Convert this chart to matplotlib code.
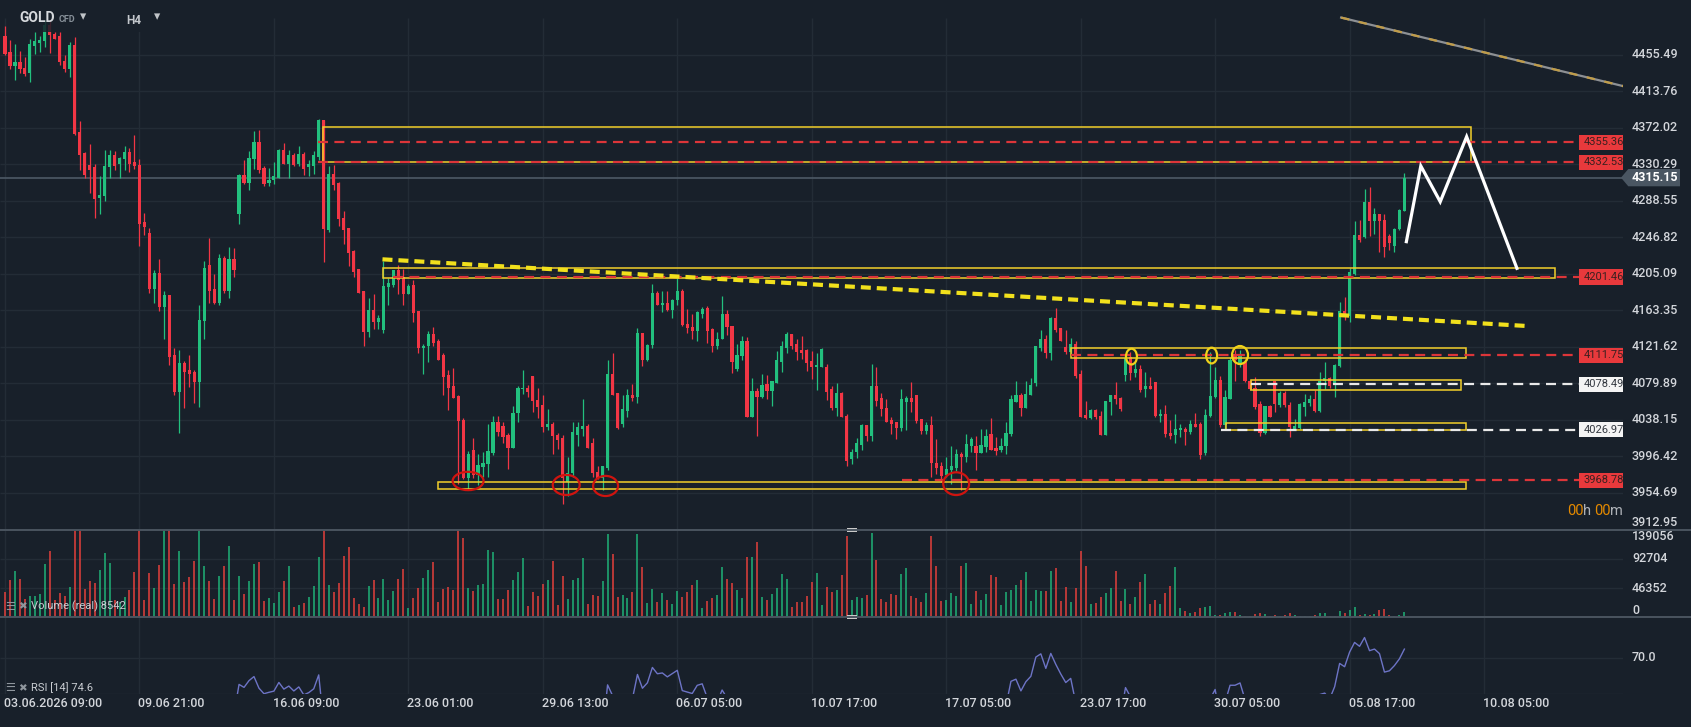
import numpy as np
import pandas as pd
import matplotlib
matplotlib.use("Agg")
import matplotlib.pyplot as plt
import matplotlib.transforms as mtransforms
from matplotlib.patches import Rectangle, Ellipse, Polygon
from matplotlib.lines import Line2D

plt.rcParams['font.family'] = ['Roboto', 'DejaVu Sans']
plt.rcParams['lines.scale_dashes'] = False

# GOLD CFD, H4 candles
opens = [
    4477, 4459, 4443, 4448, 4441, 4435, 4466, 4469, 4471, 4490,
    4479, 4477, 4449, 4440, 4467, 4367, 4343, 4330, 4327, 4292,
    4294, 4327, 4341, 4331, 4336, 4344, 4333, 4330, 4264, 4252,
    4188, 4206, 4167, 4181, 4112, 4070, 4103, 4095, 4093, 4081,
    4151, 4215, 4188, 4172, 4223, 4186, 4222, 4273, 4318, 4309,
    4336, 4356, 4326, 4309, 4313, 4315, 4347, 4331, 4341, 4331,
    4342, 4327, 4329, 4339, 4381, 4255, 4319, 4309, 4269, 4257,
    4231, 4211, 4185, 4139, 4164, 4150, 4141, 4190, 4192, 4209,
    4202, 4182, 4192, 4162, 4120, 4122, 4136, 4128, 4112, 4089,
    4077, 4065, 4038, 3971, 4003, 3975, 3984, 3987, 4000, 4035,
    4031, 4021, 4006, 4046, 4073, 4075, 4088, 4061, 4055, 4030,
    4033, 4021, 4017, 3967, 3977, 4021, 4027, 4031, 4011, 3978,
    3972, 3983, 4090, 4069, 4033, 4048, 4066, 4064, 4137, 4106,
    4124, 4183, 4170, 4172, 4164, 4175, 4186, 4148, 4144, 4140,
    4159, 4166, 4142, 4122, 4130, 4159, 4145, 4096, 4111, 4128,
    4041, 4071, 4064, 4079, 4071, 4080, 4104, 4120, 4136, 4125,
    4118, 4118, 4105, 4098, 4099, 4099, 4073, 4052, 4069, 4043,
    3993, 4001, 4009, 4032, 4020, 4077, 4063, 4052, 4038, 4035,
    4029, 4059, 4063, 4066, 4039, 4025, 4032, 3989, 3985, 3975,
    3981, 3983, 3999, 3996, 4008, 4008, 4000, 4007, 4022, 4006,
    4003, 4008, 4022, 4059, 4066, 4052, 4067, 4080, 4120, 4131,
    4114, 4155, 4143, 4121, 4116, 4125, 4090, 4044, 4040, 4049,
    4043, 4021, 4059, 4067, 4063, 4089, 4110, 4092, 4096, 4073,
    4077, 4081, 4042, 4045, 4023, 4021, 4026, 4027, 4024, 4033,
    4033, 4000, 4043, 4064, 4084, 4032, 4062, 4113, 4102, 4104,
    4083, 4075, 4056, 4023, 4054, 4083, 4055, 4069, 4055, 4028,
    4029, 4053, 4057, 4062, 4048, 4083, 4086, 4078, 4100, 4162,
    4157, 4205, 4250, 4247, 4287, 4266, 4273, 4267, 4248, 4237,
    4256, 4277,
]
highs = [
    4489, 4473, 4468, 4460, 4453, 4474, 4482, 4477, 4495, 4496,
    4482, 4482, 4456, 4470, 4476, 4380, 4344, 4354, 4331, 4317,
    4347, 4347, 4346, 4339, 4351, 4349, 4364, 4336, 4275, 4257,
    4209, 4222, 4185, 4181, 4120, 4118, 4105, 4112, 4095, 4169,
    4220, 4246, 4205, 4228, 4225, 4236, 4235, 4319, 4335, 4346,
    4369, 4370, 4328, 4326, 4333, 4348, 4355, 4347, 4343, 4351,
    4344, 4335, 4346, 4382, 4381, 4329, 4330, 4310, 4277, 4257,
    4232, 4211, 4185, 4178, 4182, 4158, 4220, 4200, 4209, 4215,
    4211, 4193, 4198, 4162, 4125, 4140, 4144, 4130, 4114, 4095,
    4097, 4066, 4040, 4002, 4017, 3999, 4001, 4033, 4043, 4043,
    4035, 4023, 4054, 4077, 4095, 4078, 4088, 4074, 4067, 4051,
    4035, 4023, 4021, 3996, 4036, 4036, 4062, 4033, 4017, 3985,
    3985, 4107, 4115, 4069, 4067, 4073, 4079, 4143, 4137, 4125,
    4194, 4186, 4186, 4185, 4176, 4201, 4188, 4165, 4159, 4162,
    4167, 4168, 4143, 4138, 4180, 4164, 4145, 4125, 4134, 4133,
    4086, 4075, 4090, 4089, 4083, 4117, 4128, 4138, 4136, 4130,
    4134, 4119, 4117, 4114, 4120, 4102, 4077, 4080, 4070, 4045,
    4005, 4017, 4033, 4032, 4102, 4099, 4069, 4062, 4041, 4036,
    4073, 4065, 4081, 4066, 4039, 4036, 4042, 4016, 3990, 3995,
    4008, 4005, 4001, 4022, 4018, 4020, 4027, 4028, 4040, 4018,
    4017, 4035, 4067, 4083, 4069, 4083, 4086, 4122, 4141, 4135,
    4156, 4166, 4143, 4141, 4132, 4128, 4095, 4060, 4050, 4050,
    4048, 4060, 4067, 4081, 4064, 4112, 4116, 4104, 4101, 4093,
    4087, 4081, 4050, 4055, 4038, 4045, 4033, 4030, 4038, 4046,
    4036, 4050, 4116, 4099, 4088, 4072, 4110, 4118, 4118, 4108,
    4084, 4087, 4060, 4054, 4055, 4083, 4071, 4071, 4059, 4039,
    4057, 4068, 4067, 4072, 4093, 4104, 4087, 4102, 4173, 4179,
    4212, 4265, 4267, 4302, 4304, 4280, 4274, 4274, 4251, 4258,
    4279, 4320,
]
lows = [
    4456, 4440, 4427, 4435, 4431, 4425, 4457, 4459, 4465, 4458,
    4474, 4444, 4436, 4430, 4364, 4324, 4315, 4298, 4269, 4274,
    4288, 4315, 4324, 4315, 4324, 4322, 4325, 4237, 4250, 4183,
    4172, 4162, 4131, 4101, 4067, 4023, 4052, 4076, 4057, 4053,
    4131, 4172, 4171, 4170, 4183, 4177, 4202, 4262, 4308, 4301,
    4325, 4321, 4306, 4306, 4308, 4315, 4331, 4315, 4329, 4329,
    4318, 4317, 4319, 4335, 4219, 4253, 4301, 4260, 4239, 4214,
    4202, 4183, 4122, 4133, 4142, 4142, 4137, 4170, 4190, 4182,
    4169, 4182, 4150, 4115, 4090, 4104, 4122, 4107, 4067, 4049,
    4063, 3965, 3970, 3958, 3971, 3963, 3973, 3973, 3998, 4020,
    4011, 3982, 4006, 4036, 4068, 4064, 4047, 4040, 4024, 4026,
    3999, 4005, 3942, 3951, 3973, 4008, 4019, 4006, 3973, 3970,
    3958, 3981, 4067, 4028, 4030, 4041, 4060, 4057, 4100, 4105,
    4120, 4169, 4161, 4162, 4155, 4170, 4145, 4137, 4130, 4128,
    4155, 4126, 4116, 4119, 4130, 4135, 4092, 4094, 4106, 4041,
    4041, 4020, 4063, 4062, 4054, 4080, 4093, 4114, 4119, 4107,
    4108, 4094, 4085, 4072, 4099, 4061, 4049, 4043, 4041, 3985,
    3987, 3994, 4004, 4014, 4014, 4054, 4043, 4035, 4022, 4016,
    4025, 4026, 4047, 4034, 4022, 4022, 3973, 3976, 3967, 3973,
    3965, 3980, 3958, 3990, 4001, 3981, 4000, 4001, 4003, 3998,
    4001, 3999, 4020, 4058, 4043, 4052, 4067, 4077, 4117, 4109,
    4106, 4138, 4128, 4113, 4112, 4086, 4041, 4039, 4039, 4039,
    4021, 4021, 4044, 4056, 4048, 4083, 4084, 4087, 4070, 4064,
    4073, 4041, 4036, 4018, 4016, 4011, 4018, 4009, 4022, 4030,
    3993, 3998, 4041, 4063, 4030, 4028, 4062, 4083, 4099, 4081,
    4072, 4050, 4020, 4022, 4041, 4047, 4053, 4053, 4018, 4027,
    4028, 4043, 4054, 4047, 4047, 4073, 4075, 4064, 4099, 4152,
    4150, 4204, 4242, 4246, 4248, 4251, 4230, 4224, 4232, 4230,
    4255, 4277,
]
closes = [
    4457, 4443, 4448, 4439, 4434, 4468, 4472, 4473, 4490, 4478,
    4474, 4447, 4440, 4467, 4365, 4341, 4318, 4324, 4291, 4295,
    4328, 4341, 4329, 4338, 4344, 4331, 4329, 4262, 4259, 4188,
    4206, 4167, 4181, 4110, 4070, 4103, 4093, 4091, 4081, 4152,
    4212, 4186, 4172, 4223, 4186, 4222, 4210, 4318, 4309, 4338,
    4356, 4324, 4308, 4313, 4317, 4347, 4331, 4341, 4330, 4342,
    4325, 4331, 4341, 4381, 4256, 4319, 4307, 4268, 4255, 4229,
    4207, 4183, 4139, 4164, 4150, 4155, 4191, 4195, 4209, 4198,
    4182, 4191, 4160, 4120, 4122, 4136, 4126, 4107, 4087, 4075,
    4063, 4037, 3971, 3999, 3975, 3986, 3989, 4002, 4035, 4024,
    4018, 4006, 4046, 4074, 4075, 4070, 4060, 4053, 4030, 4033,
    4020, 4015, 3971, 3977, 4024, 4030, 4031, 4006, 3977, 3972,
    3985, 4090, 4067, 4029, 4050, 4066, 4063, 4137, 4106, 4124,
    4183, 4169, 4172, 4164, 4175, 4186, 4146, 4143, 4140, 4161,
    4165, 4140, 4122, 4131, 4159, 4144, 4104, 4112, 4128, 4041,
    4071, 4064, 4078, 4071, 4082, 4106, 4122, 4136, 4122, 4116,
    4115, 4103, 4099, 4101, 4119, 4070, 4052, 4069, 4041, 3991,
    4001, 4011, 4032, 4020, 4077, 4060, 4050, 4036, 4033, 4029,
    4062, 4063, 4059, 4037, 4025, 4032, 3989, 3983, 3974, 3982,
    3985, 3999, 3996, 4010, 4016, 4000, 4009, 4020, 4003, 4002,
    4008, 4023, 4062, 4066, 4052, 4068, 4078, 4122, 4131, 4114,
    4155, 4141, 4128, 4116, 4125, 4088, 4041, 4040, 4049, 4041,
    4021, 4060, 4067, 4062, 4050, 4109, 4092, 4096, 4072, 4077,
    4073, 4043, 4045, 4022, 4020, 4028, 4029, 4024, 4033, 4030,
    3998, 4044, 4065, 4084, 4032, 4064, 4107, 4107, 4113, 4083,
    4073, 4053, 4023, 4054, 4041, 4056, 4069, 4055, 4030, 4031,
    4056, 4059, 4062, 4048, 4083, 4086, 4077, 4101, 4162, 4157,
    4207, 4250, 4244, 4287, 4266, 4273, 4266, 4236, 4240, 4256,
    4278, 4315.15,
]
volumes = [
    40000, 59700, 74100, 61300, 29300, 34100, 34100, 36800, 85200, 106000,
    27700, 38400, 34100, 48500, 160000, 150000, 45300, 58100, 54900, 75700,
    102800, 86800, 27700, 24000, 32500, 43700, 72500, 155000, 27700, 70900,
    46900, 83600, 145000, 150000, 53300, 106000, 56500, 64500, 90000, 142000,
    82000, 58100, 29300, 66100, 82000, 114000, 27700, 66100, 37300, 58100,
    85200, 88400, 26100, 30900, 22900, 40500, 58100, 82000, 16500, 19700,
    22900, 32500, 50100, 96400, 150000, 51700, 40500, 54900, 98000, 112400,
    30900, 21300, 16500, 50100, 59700, 30900, 61300, 27700, 42100, 61300,
    77300, 14900, 30900, 46900, 62900, 75700, 88400, 24500, 45300, 48500,
    43700, 145000, 126800, 46900, 42100, 51700, 53300, 107600, 104400, 29300,
    29300, 43700, 59700, 72500, 94800, 18100, 40500, 34100, 53300, 59700,
    90000, 19700, 66100, 29300, 59700, 62900, 94800, 21300, 35700, 34100,
    58100, 133200, 101200, 32500, 35700, 30900, 40500, 133200, 80400, 22900,
    45300, 24500, 38900, 27700, 21300, 42100, 32500, 40500, 51700, 59700,
    14900, 26100, 30900, 35700, 80400, 61300, 54900, 43700, 30900, 96400,
    96400, 120400, 32500, 27700, 37300, 46900, 69300, 61300, 16500, 24500,
    24500, 34100, 56500, 70900, 19700, 48500, 40500, 43700, 67700, 130000,
    27700, 32500, 30900, 35700, 134800, 91600, 29300, 24500, 37300, 35700,
    69300, 78900, 34100, 30900, 24500, 38900, 130000, 82000, 26100, 27700,
    38900, 34100, 82000, 86800, 21300, 42100, 27700, 37300, 67700, 64500,
    19700, 40500, 43700, 51700, 59700, 72500, 26100, 43700, 42100, 42100,
    74100, 78900, 26100, 48500, 24500, 46900, 106000, 82000, 21300, 22900,
    32500, 38900, 46900, 74100, 26100, 45300, 21300, 32500, 56500, 69300,
    21300, 27700, 21300, 38900, 50100, 80400, 14900, 10100, 6900, 8500,
    14900, 16500, 18100, 3700, 3700, 6900, 8500, 8500, 3700, 2100,
    2100, 5300, 6900, 5300, 2100, 3700, 2100, 3700, 6900, 3700,
    2100, 2100, 2100, 3700, 6900, 6900, 2100, 2100, 10100, 6900,
    11700, 16500, 3700, 5300, 3700, 5300, 11700, 13300, 3700, 2100,
    3700, 8542,
]

date_labels = ['03.06.2026 09:00', '09.06 21:00', '16.06 09:00', '23.06 01:00',
               '29.06 13:00', '06.07 05:00', '10.07 17:00', '17.07 05:00',
               '23.07 17:00', '30.07 05:00', '05.08 17:00', '10.08 05:00']
date_step = 27
price_ticks = [3954.69, 3996.42, 4038.15, 4079.89, 4121.62, 4163.35, 4205.09,
               4246.82, 4288.55, 4330.29, 4372.02, 4413.76, 4455.49]
vol_ticks = [46352, 92704]

# drawn levels and zones
levels = [4355.36, 4332.53, 4201.46, 4111.75, 4078.49, 4026.97, 3968.78]
level_start = [62.9, 62.9, 77.9, 214.0, 250.3, 244.1, 180.1]
level_red = [True, True, True, True, False, False, True]
zones = [(63.9, 294.3, 4332.7, 4372.8), (76.0, 311.2, 4200.0, 4211.4),
         (214.1, 293.3, 4108.5, 4119.9), (250.3, 292.3, 4072.5, 4083.6),
         (245.2, 293.3, 4026.8, 4034.1), (87.0, 293.3, 3958.6, 3967.3)]
trend_x, trend_y = [75.8, 305.6], [4221.7, 4145.4]
upper_x, upper_y = [268.3, 326.0], [4498.3, 4418.4]
proj_x = [281.4, 284.3, 288.2, 293.5, 303.6]
proj_y = [4241.9, 4328.5, 4287.6, 4362.0, 4211.4]
red_marks = [(93.0, 3968.1, 6.2, 21), (112.7, 3963.5, 5.4, 23),
             (120.6, 3962.4, 5.0, 23), (191.0, 3965.0, 5.2, 26)]
yellow_marks = [(226.2, 4110.4, 2.2, 18), (242.3, 4111.6, 2.2, 18),
                (248.0, 4112.2, 3.2, 20.6)]

o, h, l, c = (np.array(v, float) for v in (opens, highs, lows, closes))
idx = np.arange(len(c))
rising = c >= o

BG = '#18202a'
GRID = '#232c36'
GREEN = '#22c07e'
RED = '#f23645'
TXT = '#d3d6db'
YEL = '#f2cf2b'

W, H = 1691, 727


def box(x0, y0, x1, y1):
    return [x0 / W, 1 - y1 / H, (x1 - x0) / W, (y1 - y0) / H]


def ftext(x, y, s, **kw):
    fig.text(x / W, 1 - y / H, s, **kw)


fig = plt.figure(figsize=(W / 100, H / 100), dpi=100, facecolor=BG)
ax = fig.add_axes(box(0, 0, 1623, 530))
axv = fig.add_axes(box(0, 530, 1623, 617), sharex=ax)
axr = fig.add_axes(box(0, 617, 1623, 694.3), sharex=ax)
for a in (ax, axv, axr):
    a.set_facecolor(BG)
    for s in a.spines.values():
        s.set_visible(False)
    a.tick_params(left=False, bottom=False, labelleft=False, labelbottom=False)
ax.set_xlim(-1.0, 324.9)
ax.set_ylim(3912.0, 4518.4)
axv.set_ylim(0, 139056)
axr.set_ylim(55.7, 85.9)

# grid
date_pos = np.arange(len(date_labels)) * date_step
ax.hlines(price_ticks, -1, 325, color=GRID, lw=1, zorder=0)
ax.vlines(date_pos, 3912, 4498, color=GRID, lw=1, zorder=0)
axv.hlines(vol_ticks, -1, 325, color=GRID, lw=1, zorder=0)
axv.vlines(date_pos, 0, 139056, color=GRID, lw=1, zorder=0)
axr.hlines([70, 55.85], -1, 325, color=GRID, lw=1, zorder=0)
axr.vlines(date_pos, 55.7, 85.9, color=GRID, lw=1, zorder=0)

# candles
cols = np.where(rising, GREEN, RED)
ax.axhline(c[-1], color='#4d5965', lw=1.2, zorder=2)
ax.vlines(idx, l, h, colors=cols, lw=0.9, zorder=3)
ax.bar(idx, np.maximum(np.abs(c - o), 0.9), bottom=np.minimum(o, c),
       width=0.64, color=cols, lw=0, zorder=3)

# zones and levels
for x0, x1, y0, y1 in zones:
    ax.add_patch(Rectangle((x0, y0), x1 - x0, y1 - y0, fill=False,
                           ec=YEL, lw=1.1, zorder=4))
for lvl, x0, is_red in zip(levels, level_start, level_red):
    lc = '#dc3539' if is_red else '#e9e9e9'
    ax.plot([x0, 316.1], [lvl, lvl], color=lc, lw=1.6, ls=(0, (7.2, 4.6)), zorder=4)
    ax.add_patch(Rectangle((316.1, lvl - 8.6), 8.8, 17.2,
                           fc='#e8393c' if is_red else '#f4f4f4', lw=0, zorder=6))
    ax.text(317.0, lvl, f'{lvl:.2f}', fontsize=8, color='#3a2020' if is_red else '#333840',
            va='center', ha='left', zorder=7, clip_on=True)

ax.plot(trend_x, trend_y, color='#f1e01c', lw=3.0, ls=(0, (7.2, 4.3)), zorder=4)
ax.plot(upper_x, upper_y, color='#8d9094', lw=1.6, zorder=4)
ax.plot(upper_x, upper_y, color='#c09c48', lw=1.6, ls=(0, (6, 7)), zorder=4)
ax.plot(proj_x, proj_y, color='white', lw=2.3, zorder=5, solid_joinstyle='miter')

for x, y, w, hh in red_marks:
    ax.add_patch(Ellipse((x, y), w, hh, fill=False, ec='#d0140f', lw=1.6, zorder=5))
for x, y, w, hh in yellow_marks:
    ax.add_patch(Ellipse((x, y), w, hh, fill=False, ec='#f0d21a', lw=1.6, zorder=5))

# right price scale
tp = mtransforms.blended_transform_factory(ax.transAxes, ax.transData)
lx = 1632 / 1623
for t in price_ticks:
    ax.text(lx, t, f'{t:.2f}', transform=tp, fontsize=9, color=TXT,
            fontweight='medium', va='center', ha='left', clip_on=False)
ax.text(lx, 3913.0, '3912.95', transform=tp, fontsize=9, color=TXT,
        fontweight='medium', va='bottom', ha='left', clip_on=False)
p = c[-1]
ax.add_patch(Polygon([(1621 / 1623, p), (1628.3 / 1623, p + 9.9), (1680 / 1623, p + 9.9),
                      (1680 / 1623, p - 9.9), (1628.3 / 1623, p - 9.9)],
                     closed=True, transform=tp, fc='#4a5662', lw=0, clip_on=False))
ax.text(lx, p, f'{p:.2f}', transform=tp, fontsize=9, color='white',
        fontweight='bold', va='center', ha='left', clip_on=False)

# volume
vcols = np.where(rising, '#1fb277', '#e4403c')
axv.vlines(idx, 0, volumes, colors=vcols, lw=1.1)
tv = mtransforms.blended_transform_factory(axv.transAxes, axv.transData)
axv.text(lx, 139056, '139056', transform=tv, fontsize=9, color=TXT,
         fontweight='medium', va='top', ha='left', clip_on=False)
for t in vol_ticks:
    axv.text(lx, t, f'{t}', transform=tv, fontsize=9, color=TXT,
             fontweight='medium', va='center', ha='left', clip_on=False)
axv.text(lx, 0, '0', transform=tv, fontsize=9, color=TXT,
         fontweight='medium', va='bottom', ha='left', clip_on=False)

# RSI 14
delta = pd.Series(c).diff()
gain = delta.clip(lower=0).ewm(alpha=1 / 14, adjust=False).mean()
loss = (-delta.clip(upper=0)).ewm(alpha=1 / 14, adjust=False).mean()
rsi = (100 - 100 / (1 + gain / loss)).to_numpy()
rsi[:14] = np.nan
axr.plot(idx, rsi, color='#6d74c6', lw=1)
tr = mtransforms.blended_transform_factory(axr.transAxes, axr.transData)
axr.text(lx, 70, '70.0', transform=tr, fontsize=9, color=TXT,
         fontweight='medium', va='center', ha='left', clip_on=False)

td = mtransforms.blended_transform_factory(axr.transData, axr.transAxes)
for pos, lab in zip(date_pos, date_labels):
    axr.text(pos - 0.2, -0.122, lab, transform=td, fontsize=9, color=TXT,
             fontweight='medium', va='center', ha='left', clip_on=False)

# header and pane texts
fig.add_artist(Rectangle((12 / W, 1 - 32 / H), 158 / W, 28 / H, transform=fig.transFigure,
                         fc=BG, alpha=0.85, lw=0, zorder=8))
ftext(19, 18.5, 'GOLD', fontsize=10, fontweight='bold', color='#d6d9dd', va='center', zorder=9)
ftext(59, 19.5, 'CFD', fontsize=6.5, fontweight='bold', color='#868f98', va='center', zorder=9)
ftext(80, 16.5, '▾', fontsize=9, color='#c0c4c8', va='center', zorder=9)
ftext(126, 20.5, 'H4', fontsize=8.5, fontweight='bold', color='#c3c7cc', va='center', zorder=9)
ftext(154, 16.5, '▾', fontsize=9, color='#c0c4c8', va='center', zorder=9)

for x, s, col in [(1567, '00', '#e58a00'), (1583, 'h', '#aeb2b8'),
                  (1594, '00', '#e58a00'), (1610, 'm', '#aeb2b8')]:
    ftext(x, 511, s, fontsize=10.5, color=col, va='center')

for y, lab in [(606.7, 'Volume (real) 8542'), (688, 'RSI [14] 74.6')]:
    ftext(5, y, '☰', fontsize=8, color='#8f969d', va='center', family='DejaVu Sans')
    ftext(18, y, '✖', fontsize=7.5, color='#8f969d', va='center', family='DejaVu Sans')
    ftext(30.5, y, lab, fontsize=8, color='#c9cdd2', va='center')

# pane separators
for y in (530, 617):
    fig.add_artist(Line2D([0, 1], [1 - y / H] * 2, transform=fig.transFigure,
                          color='#4a545f', lw=1.4))
    fig.add_artist(Rectangle((847 / W, 1 - (y + 1.8) / H), 10 / W, 3.6 / H,
                             transform=fig.transFigure, fc='#c9c9c9', lw=0))

fig.savefig('out.png', dpi=100, facecolor=BG)
